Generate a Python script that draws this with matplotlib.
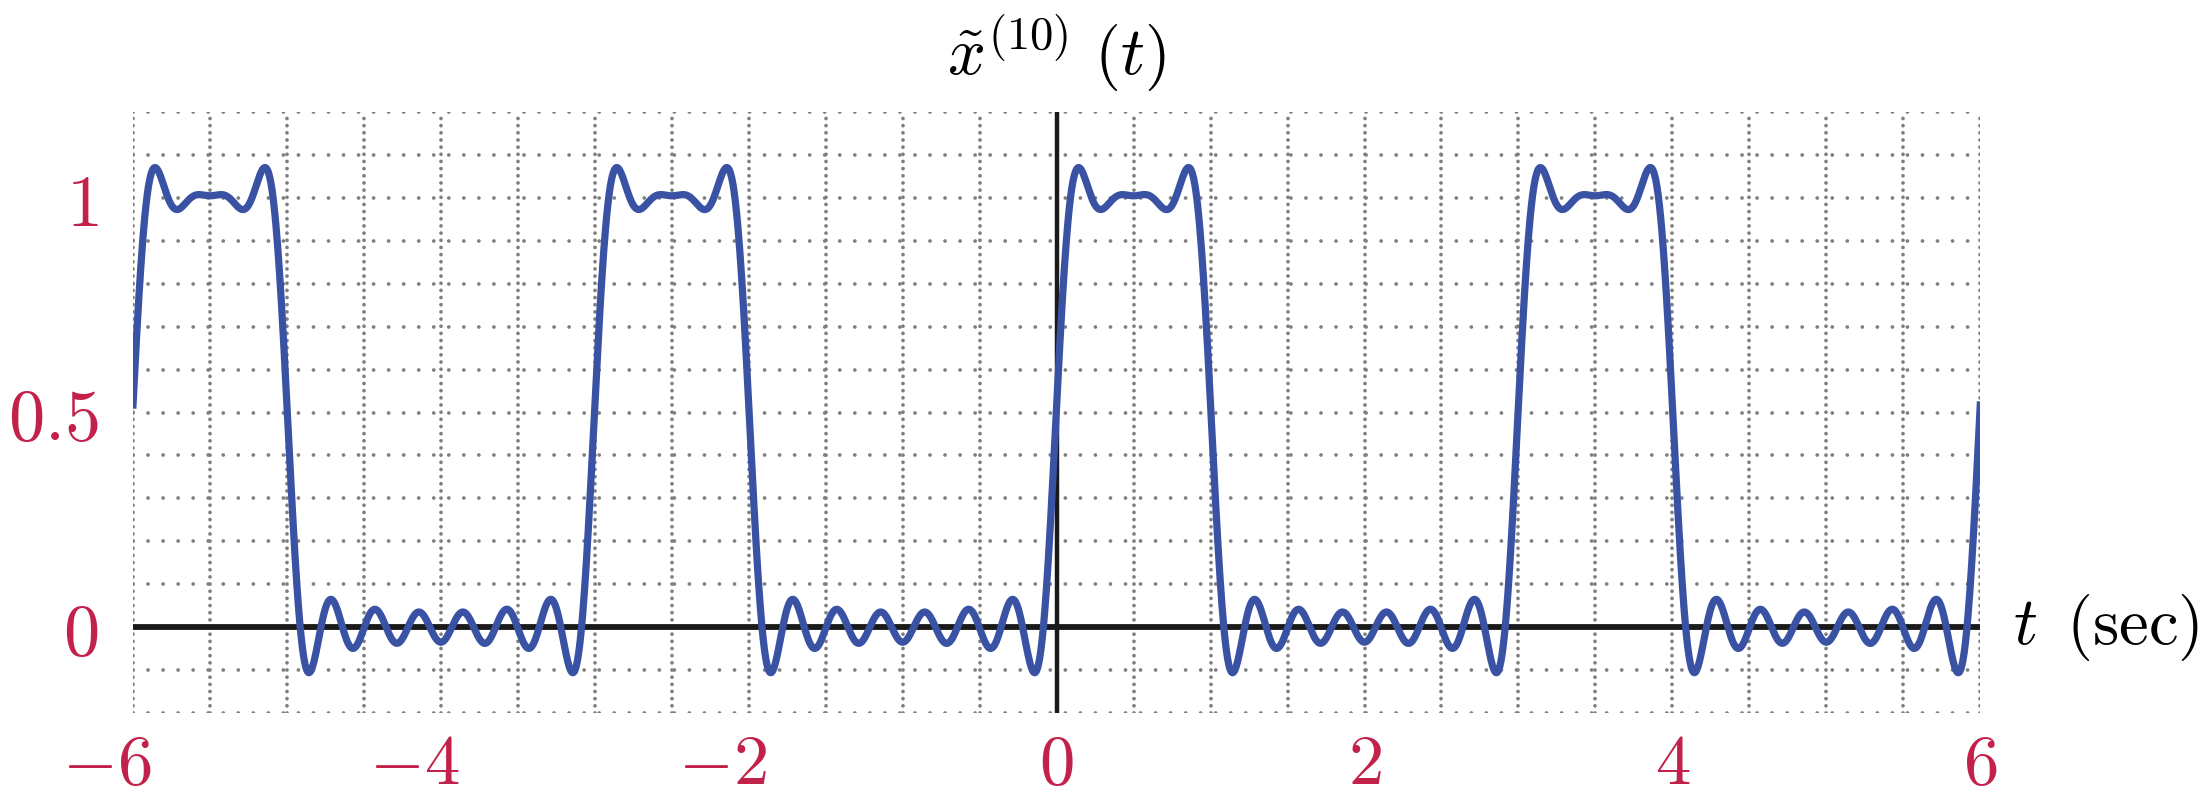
import matplotlib as mpl
mpl.use('agg')
import matplotlib.pyplot as plt
import matplotlib.transforms as mtransforms
import numpy as np

plt.rcParams['mathtext.fontset'] = 'cm'
plt.rcParams['font.family'] = 'serif'
plt.rcParams['font.serif'] = ['DejaVu Serif']

# Fourier partial sum x~^(10)(t): period 3, 10 harmonics
period = 3.0
dc_term = 0.3333
harmonic = [1, 2, 3, 4, 5, 6, 7, 8, 9, 10]
cos_coef = [0.2757, -0.1378, 0.0, 0.0689, -0.0551, 0.0, 0.0394, -0.0345, 0.0, 0.0276]
sin_coef = [0.4775, 0.2387, 0.0, 0.1194, 0.0955, 0.0, 0.0682, 0.0597, 0.0, 0.0477]

x_ticks = [-6, -4, -2, 0, 2, 4, 6]
y_ticks = [0, 0.5, 1]
y_tick_labels = ['0', '0.5', '1']

t = np.linspace(-6, 6, 3000)
x = np.full_like(t, dc_term)
for k, a, b in zip(harmonic, cos_coef, sin_coef):
    w = 2 * np.pi * k / period
    x += a * np.cos(w * t) + b * np.sin(w * t)

red = '#C2214A'
fig = plt.figure(figsize=(22.02, 7.92), dpi=100)
ax = fig.add_axes([0.0604, 0.0997, 0.8389, 0.7589])
ax.set_xlim(-6, 6)
ax.set_ylim(-0.2, 1.2)
for s in ax.spines.values():
    s.set_visible(False)

# x labels drawn by hand so the digit sits on the tick and the minus hangs left
ax.set_xticks(x_ticks)
ax.set_xticklabels([])
ax.set_xticks(np.arange(-6, 6.01, 0.5), minor=True)
ax.set_yticks(y_ticks)
ax.set_yticklabels(['$%s$' % s for s in y_tick_labels])
ax.set_yticks(np.arange(-0.2, 1.201, 0.1), minor=True)
ax.tick_params(which='both', length=0, colors=red, labelsize=52)
ax.tick_params(axis='y', pad=25)

xtrans = mtransforms.blended_transform_factory(ax.transData, ax.transAxes)
for v in x_ticks:
    if v < 0:
        tr = xtrans + mtransforms.ScaledTranslation(13 / 72, -12 / 72, fig.dpi_scale_trans)
        ax.text(v, 0, '$%d$' % v, transform=tr, ha='right', va='top', fontsize=51, color=red)
    else:
        tr = xtrans + mtransforms.ScaledTranslation(0, -12 / 72, fig.dpi_scale_trans)
        ax.text(v, 0, '$%d$' % v, transform=tr, ha='center', va='top', fontsize=51, color=red)

ax.xaxis.grid(True, which='both', color='#7f7f7f', linestyle=(0, (0.01, 1.9)), linewidth=2.7, dash_capstyle='round')
ax.yaxis.grid(True, which='both', color='#7f7f7f', linestyle=(0, (0.01, 4.0)), linewidth=2.7, dash_capstyle='round')
ax.set_axisbelow(True)

ax.axhline(0, color='#1a1a1a', linewidth=4.2, zorder=2)
ax.axvline(0, color='#1a1a1a', linewidth=3.2, zorder=2)
ax.plot(t, x, color='#3952A4', linewidth=5.2, zorder=3)

ax.text(0, 1.336, r'$\tilde{x}^{(10)}\ (t)$', fontsize=48, ha='center', va='center', clip_on=False)
ax.text(6.21, 0, r'$t\enspace\mathrm{(sec)}$', fontsize=48, ha='left', va='center', clip_on=False)

plt.savefig('out.png', dpi=100)
